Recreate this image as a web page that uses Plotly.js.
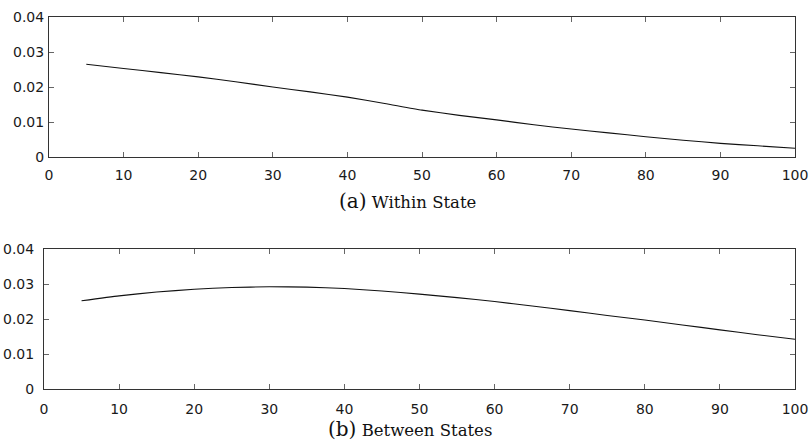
<!DOCTYPE html>
<html>
<head>
<meta charset="utf-8">
<script src="https://cdn.plot.ly/plotly-3.0.1.min.js"></script>
<style>html,body{margin:0;padding:0;background:#fff;}#chart{width:809px;height:444px;}</style>
</head>
<body>
<div id="chart"></div>
<script>
const xValues = [5,10,15,20,25,30,35,40,45,50,55,60,65,70,75,80,85,90,95,100];
const withinState = [0.0265,0.0253,0.0241,0.0229,0.0215,0.0200,0.0186,0.0171,0.0153,0.0134,0.0119,0.0106,0.0092,0.0080,0.0069,0.0058,0.0048,0.0039,0.0032,0.0025];
const betweenStates = [0.0252,0.0266,0.0277,0.0285,0.0290,0.0292,0.0291,0.0287,0.0280,0.0271,0.0261,0.0250,0.0237,0.0224,0.0210,0.0197,0.0183,0.0169,0.0155,0.0142];
const xTicks = [0,10,20,30,40,50,60,70,80,90,100];
const yTicks = [0,0.01,0.02,0.03,0.04];
const yTickText = ['0','0.01','0.02','0.03','0.04'];
const captionA = ['(a)','Within State'];
const captionB = ['(b)','Between States'];

const W = 809, H = 444;
const px = v => v / W;
const py = v => 1 - v / H;

const lineStyle = {color:'#111', width:1.1, shape:'spline', smoothing:0.5};
const traces = [
  {x:xValues, y:withinState, type:'scatter', mode:'lines', line:lineStyle, xaxis:'x', yaxis:'y', hoverinfo:'skip'},
  {x:xValues, y:betweenStates, type:'scatter', mode:'lines', line:lineStyle, xaxis:'x2', yaxis:'y2', hoverinfo:'skip'}
];

const tickFont = {family:'DejaVu Sans, Liberation Sans, sans-serif', size:14, color:'#1a1a1a'};
function xa(domain, anchor, standoff){
  return {domain:domain, anchor:anchor, range:[0,100], tickvals:xTicks, ticktext:xTicks.map(String),
    ticks:'inside', ticklen:5, tickcolor:'#666', mirror:'ticks', showline:true, linecolor:'#333', linewidth:1,
    showgrid:false, zeroline:false, tickfont:tickFont, ticklabelstandoff:standoff, fixedrange:true};
}
function ya(domain, anchor, standoff){
  return {domain:domain, anchor:anchor, range:[0,0.04], tickvals:yTicks, ticktext:yTickText,
    ticks:'inside', ticklen:5, tickcolor:'#666', mirror:'ticks', showline:true, linecolor:'#333', linewidth:1,
    showgrid:false, zeroline:false, tickfont:tickFont, ticklabelstandoff:standoff, fixedrange:true};
}
const serif = 'DejaVu Serif, Liberation Serif, serif';
function caption(parts, xc, yc){
  return {xref:'paper', yref:'paper', x:px(xc), y:py(yc), xanchor:'center', yanchor:'middle', showarrow:false,
    text:'<span style="font-size:20px">'+parts[0]+'</span> '+parts[1],
    font:{family:serif, size:16.5, color:'#111'}};
}
const layout = {
  width:W, height:H, margin:{l:0,r:0,t:0,b:0}, paper_bgcolor:'#fff', plot_bgcolor:'#fff', showlegend:false,
  xaxis: xa([px(49), px(795)], 'y', 5),
  yaxis: ya([py(157), py(17)], 'x', 1),
  xaxis2: xa([px(44), px(795)], 'y2', 7),
  yaxis2: ya([py(389), py(249)], 'x2', 6),
  annotations:[caption(captionA, 408, 201), caption(captionB, 410, 429)]
};
Plotly.newPlot('chart', traces, layout, {displayModeBar:false, staticPlot:true});
</script>
</body>
</html>
